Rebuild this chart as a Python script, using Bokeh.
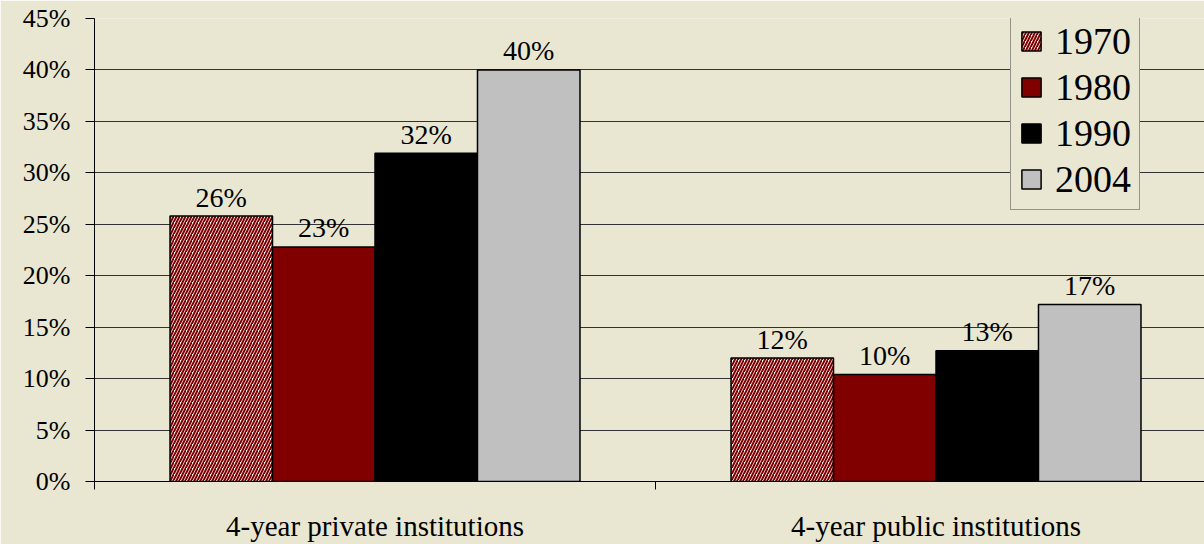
from bokeh.plotting import figure
from bokeh.models import FixedTicker, Range1d, Legend, LegendItem, ColumnDataSource
from bokeh.core.properties import value
from bokeh.embed import file_html
from bokeh.resources import INLINE

categories = ["4-year private institutions", "4-year public institutions"]
years = ["1970", "1980", "1990", "2004"]
v1970 = [25.8, 12.0]
v1980 = [22.8, 10.4]
v1990 = [31.9, 12.7]
v2004 = [40.0, 17.2]
y_ticks = [0, 5, 10, 15, 20, 25, 30, 35, 40, 45]

BG = "#E9E7D2"
FONT = "Liberation Serif"

p = figure(width=1204, height=544, output_backend="svg", toolbar_location=None,
           x_range=Range1d(0, (1204 - 94) / 561), y_range=Range1d(0, 45),
           min_border_left=94, min_border_right=0, min_border_top=18, min_border_bottom=63)
p.background_fill_color = BG
p.border_fill_color = BG
p.outline_line_color = None

series = [v1970, v1980, v1990, v2004]
bw = 0.1827
styles = [
    dict(fill_color="white", hatch_pattern="right_diagonal_line", hatch_color="#800000",
         hatch_scale=6, hatch_weight=2),
    dict(fill_color="#800000"),
    dict(fill_color="black"),
    dict(fill_color="#C0C0C0"),
]
renderers = []
for i, vals in enumerate(series):
    xs = [c + 0.5 + (i - 1.5) * bw for c in range(len(categories))]
    src = ColumnDataSource(dict(x=xs, top=vals, lab=[f"{round(v)}%" for v in vals]))
    r = p.vbar(x="x", top="top", width=bw, source=src, line_color="black", line_width=1.5,
               **styles[i])
    renderers.append(r)
    p.text(x="x", y="top", text="lab", source=src, text_align="center",
           text_baseline="alphabetic", y_offset=-19, text_font=value(FONT),
           text_font_size="28px", text_color="black")

# axes
p.yaxis.ticker = FixedTicker(ticks=y_ticks)
p.yaxis.major_label_overrides = {t: f"{t}%" for t in y_ticks}
p.yaxis.major_tick_out = 9
p.yaxis.major_tick_in = 0
p.yaxis.minor_tick_out = 0
p.yaxis.minor_tick_in = 0
p.yaxis.major_label_standoff = 15
p.yaxis.axis_line_color = "black"
p.yaxis.major_tick_line_color = "black"
p.yaxis.major_label_text_font_size = "26px"

p.xaxis.ticker = FixedTicker(ticks=[0.5, 1.5], minor_ticks=[0, 1, 2])
p.xaxis.major_label_overrides = {0.5: categories[0], 1.5: categories[1]}
p.xaxis.major_tick_out = 0
p.xaxis.major_tick_in = 0
p.xaxis.minor_tick_out = 8
p.xaxis.minor_tick_in = 0
p.xaxis.minor_tick_line_color = "black"
p.xaxis.major_label_standoff = 20
p.xaxis.axis_line_color = "black"
p.xaxis.major_label_text_font_size = "29px"

for ax in (p.xaxis, p.yaxis):
    ax.major_label_text_font = FONT
    ax.major_label_text_color = "black"

p.xgrid.grid_line_color = None
p.ygrid.ticker = FixedTicker(ticks=y_ticks)
p.ygrid.grid_line_color = "#333333"
p.ygrid.grid_line_width = 1
p.ygrid.level = "underlay"

legend = Legend(items=[LegendItem(label=y, renderers=[r]) for y, r in zip(years, renderers)],
                location=(916, 271))
legend.background_fill_color = BG
legend.background_fill_alpha = 1
legend.border_line_color = "#404040"
legend.border_line_width = 1
legend.label_text_font = FONT
legend.label_text_font_size = "38px"
legend.label_text_color = "black"
legend.glyph_width = 24
legend.glyph_height = 24
legend.label_standoff = 12
legend.spacing = 2
legend.padding = 8
legend.margin = 0
p.add_layout(legend)

open("out.html", "w").write(file_html(p, INLINE))
